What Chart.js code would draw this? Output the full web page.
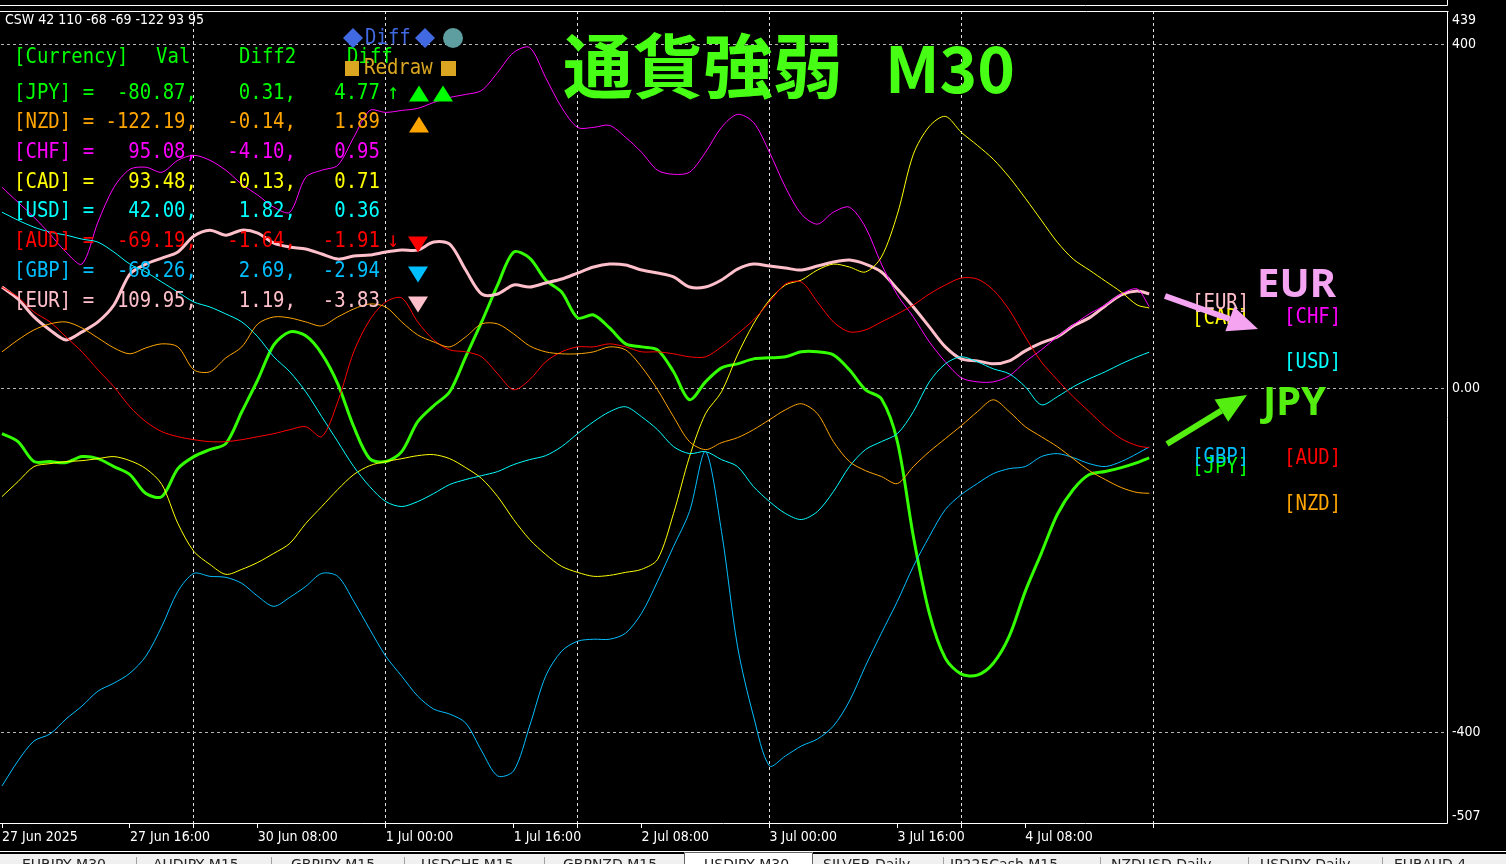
<!DOCTYPE html>
<html><head><meta charset="utf-8">
<script src="https://cdn.jsdelivr.net/npm/chart.js@4.4.1/dist/chart.umd.min.js"></script>
<style>html,body{margin:0;padding:0;background:#000;overflow:hidden}canvas{display:block}</style>
</head><body><canvas id="c" width="1506" height="864"></canvas>
<script>
// bar index (M30 bars) of each sampled point
const bars = [0,4,8,12,16,20,24,28,32,36,40,44,48,52,56,60,64,68,72,76,80,84,88,92,96,100,104,108,112,116,120,124,128,132,136,140,144,148,152,156,160,164,168,172,176,180,184,188,192,196,200,204,208,212,216,220,224,228,232,236,240,244,248,252,256,260,264,268,272,276,280,284,287];

const jpy = [-52.8,-62.1,-85.3,-85.3,-86.5,-79.5,-81.9,-91.1,-100.4,-122.5,-126.0,-93.5,-79.5,-71.4,-64.4,-27.3,9.9,50.5,65.6,61.0,40.1,5.2,-44.7,-81.9,-85.3,-73.7,-38.9,-20.3,-4.1,36.6,77.2,120.2,158.5,151.5,126.0,112.0,81.9,85.3,70.2,51.7,48.2,44.7,19.2,-13.4,7.5,23.8,28.4,34.2,35.4,36.6,42.4,42.4,38.9,21.5,-1.7,-12.2,-62.1,-172.4,-261.8,-314.1,-332.6,-333.8,-319.9,-288.5,-236.3,-192.1,-146.9,-117.8,-100.4,-96.9,-92.3,-86.5,-80.87];
const eur = [117.8,103.9,83.0,67.9,56.3,65.6,77.2,96.9,132.9,144.5,151.5,158.5,177.1,184.0,178.2,184.0,180.5,168.9,164.3,162.0,156.2,150.3,153.8,155.0,158.5,160.8,160.8,170.1,167.8,137.6,109.7,109.7,120.2,117.8,122.5,127.1,134.1,141.1,144.5,143.4,137.6,134.1,129.5,117.8,117.8,126.0,138.7,144.5,142.2,139.9,137.6,142.2,146.9,149.2,144.5,135.3,115.5,94.6,71.4,48.2,34.2,31.9,28.4,31.9,43.5,52.8,59.8,72.6,81.9,95.8,108.6,113.2,109.95];
const chf = [233.9,216.5,199.1,179.4,158.5,144.5,193.3,233.9,254.8,257.2,251.4,265.3,271.1,265.3,253.7,237.4,224.7,210.7,204.9,245.6,253.7,259.5,292.0,323.3,321.0,323.3,325.7,332.6,338.4,341.9,346.6,367.5,390.7,396.5,361.6,326.8,303.6,303.6,305.9,292.0,274.6,253.7,249.0,251.4,274.6,303.6,318.7,309.4,274.6,233.9,202.6,191.0,204.9,210.7,187.5,144.5,108.6,83.0,54.0,30.8,12.2,7.5,7.5,14.5,30.8,44.7,59.8,73.7,86.5,96.9,109.7,115.5,95.08];
const cad = [-126.0,-108.6,-91.1,-87.7,-85.3,-84.2,-81.9,-79.5,-84.2,-93.5,-112.0,-157.3,-189.8,-204.9,-216.5,-210.7,-202.6,-192.1,-180.5,-157.3,-137.6,-117.8,-100.4,-90.0,-85.3,-81.9,-78.4,-77.2,-81.9,-92.3,-105.1,-126.0,-152.7,-175.9,-193.3,-207.2,-214.2,-218.8,-217.7,-214.2,-210.7,-199.1,-145.7,-79.5,-29.6,-4.1,38.9,74.9,102.7,120.2,126.0,137.6,144.5,141.1,135.3,152.7,202.6,272.3,304.8,316.4,297.8,282.7,266.5,245.6,221.2,195.6,170.1,150.3,137.6,124.8,112.0,96.9,93.48];
const usd = [204.9,195.6,187.5,181.7,178.2,173.6,170.1,158.5,144.5,135.3,123.6,112.0,100.4,94.6,86.5,77.2,59.8,36.6,19.2,-4.1,-33.1,-62.1,-91.1,-114.4,-131.8,-137.6,-131.8,-122.5,-112.0,-106.2,-101.6,-96.9,-88.8,-83.0,-78.4,-67.9,-52.8,-38.9,-27.3,-21.5,-33.1,-48.2,-67.9,-76.0,-73.7,-83.0,-91.1,-114.4,-131.8,-145.7,-152.7,-143.4,-120.2,-91.1,-71.4,-62.1,-52.8,-27.3,7.5,28.4,36.6,30.8,22.6,16.8,1.7,-19.2,-9.9,1.7,11.0,19.2,28.4,36.6,42.00];
const gbp = [-462.7,-433.6,-410.4,-402.3,-384.9,-369.8,-352.4,-343.1,-331.5,-311.7,-276.9,-236.3,-215.4,-218.8,-220.0,-227.0,-242.1,-253.7,-243.2,-230.5,-215.4,-218.8,-247.9,-280.4,-311.7,-335.0,-358.2,-373.3,-379.1,-389.5,-422.0,-451.1,-445.2,-393.0,-335.0,-305.9,-294.3,-292.0,-292.0,-285.0,-261.8,-224.7,-184.0,-143.4,-73.7,-166.6,-300.1,-381.4,-439.4,-427.8,-416.2,-408.1,-393.0,-364.0,-323.3,-285.0,-247.9,-207.2,-172.4,-141.1,-123.6,-110.9,-99.3,-93.5,-91.1,-79.5,-76.0,-80.7,-87.7,-91.1,-85.3,-76.0,-68.26];
const aud = [117.8,106.2,88.8,77.2,59.8,42.4,21.5,1.7,-21.5,-38.9,-50.5,-56.3,-59.8,-62.1,-62.1,-59.8,-56.3,-52.8,-48.2,-44.7,-56.3,-15.7,42.4,79.5,100.4,105.1,77.2,56.3,44.7,42.4,36.6,16.8,-1.7,9.9,30.8,42.4,48.2,48.2,51.7,48.2,42.4,42.4,40.1,36.6,36.6,48.2,63.3,79.5,100.4,121.3,123.6,100.4,77.2,65.6,67.9,77.2,86.5,96.9,109.7,120.2,128.3,127.1,114.4,91.1,59.8,30.8,9.9,-9.9,-27.3,-44.7,-58.6,-66.8,-69.19];
const nzd = [42.4,56.3,67.9,74.9,77.2,70.2,58.6,47.0,40.1,47.0,51.7,48.2,21.5,19.2,35.4,48.2,74.9,83.0,81.9,77.2,72.6,83.0,92.3,98.1,94.6,77.2,62.1,54.0,48.2,59.8,74.9,74.9,63.3,49.3,42.4,40.1,40.1,42.4,48.2,44.7,25.0,-1.7,-33.1,-62.1,-71.4,-63.3,-57.5,-48.2,-36.6,-25.0,-18.0,-29.6,-62.1,-85.3,-95.8,-102.7,-110.9,-91.1,-73.7,-58.6,-43.5,-27.3,-13.4,-27.3,-44.7,-56.3,-67.9,-81.9,-95.8,-106.2,-115.5,-121.3,-122.19];

// x-axis tick labels (every 32 bars = 16h)
const tickBars = [0,32,64,96,128,160,192,224,256];
const tickLabels = ['27 Jun 2025','27 Jun 16:00','30 Jun 08:00','1 Jul 00:00','1 Jul 16:00','2 Jul 08:00','3 Jul 00:00','3 Jul 16:00','4 Jul 08:00'];
const yTicks = [-400, 0, 400];
const yMin = -507, yMax = 439;

// table panel
const currencies = ['JPY','NZD','CHF','CAD','USD','AUD','GBP','EUR'];
const tVal  = [-80.87,-122.19,95.08,93.48,42.00,-69.19,-68.26,109.95];
const tDiff2 = [0.31,-0.14,-4.10,-0.13,1.82,-1.64,2.69,1.19];
const tDiff  = [4.77,1.89,0.95,0.71,0.36,-1.91,-2.94,-3.83];
const colors = {JPY:'#00ff00',NZD:'#ffa500',CHF:'#ff00ff',CAD:'#ffff00',USD:'#00ffff',AUD:'#ff0000',GBP:'#00bfff',EUR:'#ffc0cb'};
const tabs = ['EURJPY,M30','AUDJPY,M15','GBPJPY,M15','USDCHF,M15','GBPNZD,M15','USDJPY,M30','SILVER,Daily','JP225Cash,M15','NZDUSD,Daily','USDJPY,Daily','EURAUD,4'];

const AX_FONT = '"DejaVu Sans Condensed", "DejaVu Sans", sans-serif';
const MONO = '"DejaVu Sans Mono", monospace';

function mono(c, s, x, y, color, align){
  c.save();
  c.font = '19px ' + MONO;
  c.fillStyle = color; c.textAlign = align || 'left'; c.textBaseline = 'middle';
  c.translate(x, y); c.scale(1, 1.15); c.fillText(s, 0, 0);
  c.restore();
}
function tri(c, cx, cy, up, color){
  c.save(); c.fillStyle = color; c.beginPath();
  if (up){ c.moveTo(cx, cy-8); c.lineTo(cx+10, cy+8); c.lineTo(cx-10, cy+8); }
  else { c.moveTo(cx-10, cy-8); c.lineTo(cx+10, cy-8); c.lineTo(cx, cy+8); }
  c.closePath(); c.fill(); c.restore();
}
function arrow(c, x1, y1, x2, y2, color){
  const dx = x2-x1, dy = y2-y1, L = Math.hypot(dx, dy), ux = dx/L, uy = dy/L;
  const hl = 30, hw = 13, bx = x2-ux*hl, by = y2-uy*hl;
  c.save(); c.strokeStyle = color; c.fillStyle = color; c.lineWidth = 6;
  c.beginPath(); c.moveTo(x1, y1); c.lineTo(bx, by); c.stroke();
  c.beginPath(); c.moveTo(x2, y2); c.lineTo(bx - uy*hw, by + ux*hw); c.lineTo(bx + uy*hw, by - ux*hw); c.closePath(); c.fill();
  c.restore();
}

const overlay = {
  id: 'overlay',
  beforeDraw(chart){
    const c = chart.ctx; c.save(); c.fillStyle = '#000'; c.fillRect(0, 0, chart.width, chart.height); c.restore();
  },
  afterDraw(chart){
    const c = chart.ctx, a = chart.chartArea, ys = chart.scales.y;
    c.save();
    // frame
    c.strokeStyle = '#fff'; c.lineWidth = 1;
    c.beginPath();
    c.moveTo(0, 5.5); c.lineTo(a.right - 0.5, 5.5); c.lineTo(a.right - 0.5, 0);
    c.moveTo(0, a.top + 0.5); c.lineTo(a.right + 0.5, a.top + 0.5);
    c.moveTo(a.right - 0.5, a.top); c.lineTo(a.right - 0.5, a.bottom - 0.5); c.lineTo(0, a.bottom - 0.5);
    c.stroke();
    // y extreme labels
    c.font = '14px ' + AX_FONT; c.fillStyle = '#fff'; c.textAlign = 'left';
    c.textBaseline = 'top'; c.fillText(String(yMax), a.right + 4, ys.getPixelForValue(yMax) + 2);
    c.textBaseline = 'bottom'; c.fillText(String(yMin), a.right + 4, ys.getPixelForValue(yMin) - 1);
    // indicator short name
    c.textBaseline = 'middle'; c.fillText('CSW 42 110 -68 -69 -122 93 95', 5, 20);

    // title
    c.fillStyle = '#47ff14';
    c.font = 'bold 70px "Noto Sans CJK JP"'; c.textBaseline = 'middle';
    c.fillText('通貨強弱', 563, 66);
    c.font = 'bold 64px "Noto Sans CJK JP"'; c.textBaseline = 'alphabetic';
    c.fillText('M30', 885, 93);

    // table header
    mono(c, '[Currency]', 14, 57, '#00ff00');
    mono(c, 'Val', 156, 57, '#00ff00');
    mono(c, 'Diff2', 239, 57, '#00ff00');
    mono(c, 'Diff', 347, 57, '#00ff00');
    currencies.forEach((cur, i) => {
      const y = 93 + 29.7 * i, col = colors[cur];
      mono(c, '[' + cur + '] =', 14, y, col);
      mono(c, tVal[i].toFixed(2) + ',', 197, y, col, 'right');
      mono(c, tDiff2[i].toFixed(2) + ',', 296, y, col, 'right');
      mono(c, tDiff[i].toFixed(2), 380, y, col, 'right');
    });
    mono(c, '↑', 393, 93, '#00ff00', 'center');
    mono(c, '↓', 393, 93 + 29.7 * 5, '#ff0000', 'center');
    tri(c, 419, 93.5, true, '#00ff00'); tri(c, 443, 93.5, true, '#00ff00');
    tri(c, 419, 124.5, true, '#ffa500');
    tri(c, 418, 244.5, false, '#ff0000');
    tri(c, 418, 274.5, false, '#00bfff');
    tri(c, 418, 304.5, false, '#ffc0cb');

    // Diff / Redraw buttons
    c.fillStyle = '#4169e1';
    c.beginPath(); c.moveTo(353, 28); c.lineTo(363, 38); c.lineTo(353, 48); c.lineTo(343, 38); c.closePath(); c.fill();
    c.beginPath(); c.moveTo(425, 28); c.lineTo(435, 38); c.lineTo(425, 48); c.lineTo(415, 38); c.closePath(); c.fill();
    mono(c, 'Diff', 365, 38, '#4169e1');
    c.fillStyle = '#5f9ea0'; c.beginPath(); c.arc(453, 38, 10, 0, Math.PI * 2); c.fill();
    c.fillStyle = '#daa520';
    c.fillRect(345, 61, 14, 15); c.fillRect(441, 61, 15, 15);
    mono(c, 'Redraw', 364, 68, '#daa520');

    // right side labels
    mono(c, '[CAD]', 1192, 318, colors.CAD);
    mono(c, '[EUR]', 1192, 303, colors.EUR);
    mono(c, '[CHF]', 1284, 317, colors.CHF);
    mono(c, '[USD]', 1284, 362, colors.USD);
    mono(c, '[JPY]', 1192, 467, colors.JPY);
    mono(c, '[GBP]', 1192, 457, colors.GBP);
    mono(c, '[AUD]', 1284, 458, colors.AUD);
    mono(c, '[NZD]', 1284, 504, colors.NZD);

    // big labels + arrows
    arrow(c, 1165, 296, 1258, 329, '#f4a4f0');
    arrow(c, 1167, 444, 1247, 395, '#55ee11');
    c.font = 'bold 40px "Noto Sans", sans-serif'; c.textBaseline = 'alphabetic'; c.textAlign = 'left';
    c.fillStyle = '#f4a4f0'; c.fillText('EUR', 1257, 297);
    c.fillStyle = '#55ee11'; c.fillText('JPY', 1263, 415);

    // tab bar
    c.fillStyle = '#fff'; c.fillRect(0, 851, chart.width, 1);
    c.fillStyle = '#f0f0f0'; c.fillRect(0, 854, chart.width, 10);
    c.fillStyle = '#fff'; c.fillRect(684, 852, 129, 12);
    c.strokeStyle = '#646464'; c.beginPath();
    c.moveTo(684.5, 864); c.lineTo(684.5, 852.5); c.lineTo(812.5, 852.5); c.lineTo(812.5, 864); c.stroke();
    c.strokeStyle = '#a0a0a0'; c.beginPath();
    [136, 271, 404, 544, 943, 1100, 1248, 1382].forEach(x => { c.moveTo(x + 0.5, 857); c.lineTo(x + 0.5, 864); });
    c.stroke();
    const tabX = [22, 153, 291, 421, 563, 704, 823, 950, 1111, 1260, 1394];
    c.font = '14px "DejaVu Sans", sans-serif'; c.fillStyle = '#222'; c.textBaseline = 'alphabetic';
    tabs.forEach((t, i) => c.fillText(t, tabX[i], 869));
    c.restore();
  }
};

const series = [
  {label:'NZD', data:nzd, w:1},
  {label:'AUD', data:aud, w:1},
  {label:'GBP', data:gbp, w:1},
  {label:'USD', data:usd, w:1},
  {label:'CAD', data:cad, w:1},
  {label:'CHF', data:chf, w:1},
  {label:'EUR', data:eur, w:3},
  {label:'JPY', data:jpy, w:3, color:'#33ff00'}
];

const gridBars = [];
for (let b = 0; b <= 352; b += 16) gridBars.push(b);

new Chart(document.getElementById('c'), {
  type: 'line',
  data: {
    labels: bars,
    datasets: series.map(s => ({
      label: s.label, data: s.data, borderColor: s.color || colors[s.label],
      borderWidth: s.w, pointRadius: 0, tension: 0.3, fill: false
    }))
  },
  options: {
    responsive: false, animation: false, events: [],
    layout: {padding: {top: 8, left: 0, right: 0, bottom: 0}},
    plugins: {legend: {display: false}, tooltip: {enabled: false}},
    scales: {
      x: {
        type: 'linear', min: -0.25, max: 361.75,
        afterBuildTicks: s => { s.ticks = gridBars.map(v => ({value: v})); },
        afterFit: s => { s.height = 40; },
        grid: {
          color: ctx => (ctx.tick && ctx.tick.value > 0 && ctx.tick.value <= 288 && ctx.tick.value % 48 === 0) ? '#e0e0e0' : 'rgba(0,0,0,0)',
          tickColor: ctx => (ctx.tick && (ctx.tick.value % 32 === 0 || ctx.tick.value % 48 === 0) && ctx.tick.value <= 288) ? '#ffffff' : 'rgba(0,0,0,0)',
          tickLength: 4, drawTicks: true, tickBorderDash: []
        },
        border: {display: false, dash: [3, 3]},
        ticks: {
          autoSkip: false, maxRotation: 0, minRotation: 0, align: 'start', padding: 2,
          color: '#fff', font: {family: AX_FONT, size: 14, lineHeight: 1},
          callback: v => { const i = tickBars.indexOf(v); return i >= 0 ? tickLabels[i] : ''; }
        }
      },
      y: {
        position: 'right', min: yMin, max: yMax,
        afterBuildTicks: s => { s.ticks = yTicks.map(v => ({value: v})); },
        afterFit: s => { s.width = 58; },
        grid: {color: '#b4b4b4', drawTicks: false},
        border: {display: false, dash: [3, 3]},
        ticks: {
          padding: 4, color: '#fff', font: {family: AX_FONT, size: 14, lineHeight: 1},
          callback: v => v === 0 ? '0.00' : String(v)
        }
      }
    }
  },
  plugins: [overlay]
});
</script>
</body></html>
